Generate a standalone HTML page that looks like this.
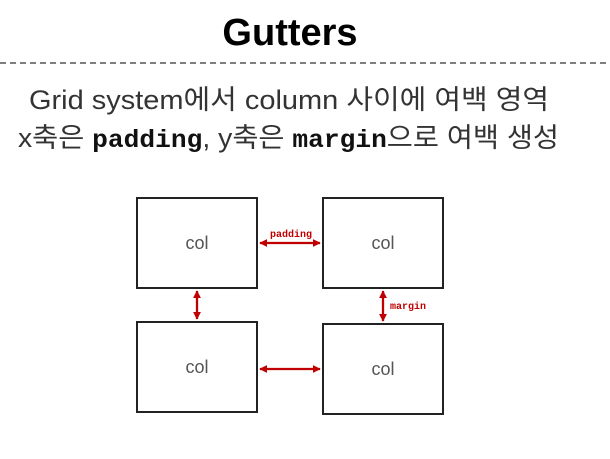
<!DOCTYPE html>
<html><head><meta charset="utf-8"><style>
html,body{margin:0;padding:0;background:#fff;}
svg{display:block}
</style></head><body>
<svg width="610" height="459" xmlns="http://www.w3.org/2000/svg">
<defs>
<marker id="a" viewBox="0 0 10 10" refX="9" refY="5" markerWidth="3.5" markerHeight="3.5" orient="auto-start-reverse"><path d="M0,0 L10,5 L0,10 z" fill="#c00000"/></marker>
</defs>
<text x="290" y="45" text-anchor="middle" font-family="Liberation Sans, sans-serif" font-weight="bold" font-size="38" fill="#000">Gutters</text>
<line x1="0" y1="63" x2="610" y2="63" stroke="#333" stroke-width="1.3" stroke-dasharray="6,4"/>
<text x="29" y="109" textLength="520" lengthAdjust="spacingAndGlyphs" font-family="Liberation Sans, 'Noto Sans CJK KR', sans-serif" font-size="27" fill="#333">Grid system에서 column 사이에 여백 영역</text>
<text x="18" y="147" textLength="541" lengthAdjust="spacingAndGlyphs" font-family="Liberation Sans, 'Noto Sans CJK KR', sans-serif" font-size="27" fill="#333">x축은 <tspan font-family="Liberation Mono, monospace" font-weight="bold" font-size="25" fill="#111">padding</tspan>, y축은 <tspan font-family="Liberation Mono, monospace" font-weight="bold" font-size="25" fill="#111">margin</tspan>으로 여백 생성</text>
<g fill="#fff" stroke="#222" stroke-width="2">
<rect x="137" y="198" width="120" height="90"/>
<rect x="323" y="198" width="120" height="90"/>
<rect x="137" y="322" width="120" height="90"/>
<rect x="323" y="324" width="120" height="90"/>
</g>
<g font-family="Liberation Sans, sans-serif" font-size="18" fill="#555" text-anchor="middle">
<text x="197" y="249">col</text>
<text x="383" y="249">col</text>
<text x="197" y="373">col</text>
<text x="383" y="375">col</text>
</g>
<g stroke="#c00000" stroke-width="2.3" marker-start="url(#a)" marker-end="url(#a)">
<line x1="260" y1="243" x2="320" y2="243"/>
<line x1="197" y1="291" x2="197" y2="319"/>
<line x1="383" y1="291" x2="383" y2="321"/>
<line x1="260" y1="369" x2="320" y2="369"/>
</g>
<g font-family="Liberation Mono, monospace" font-weight="bold" font-size="10" fill="#c00000">
<text x="270" y="237">padding</text>
<text x="390" y="309">margin</text>
</g>
</svg>
</body></html>
